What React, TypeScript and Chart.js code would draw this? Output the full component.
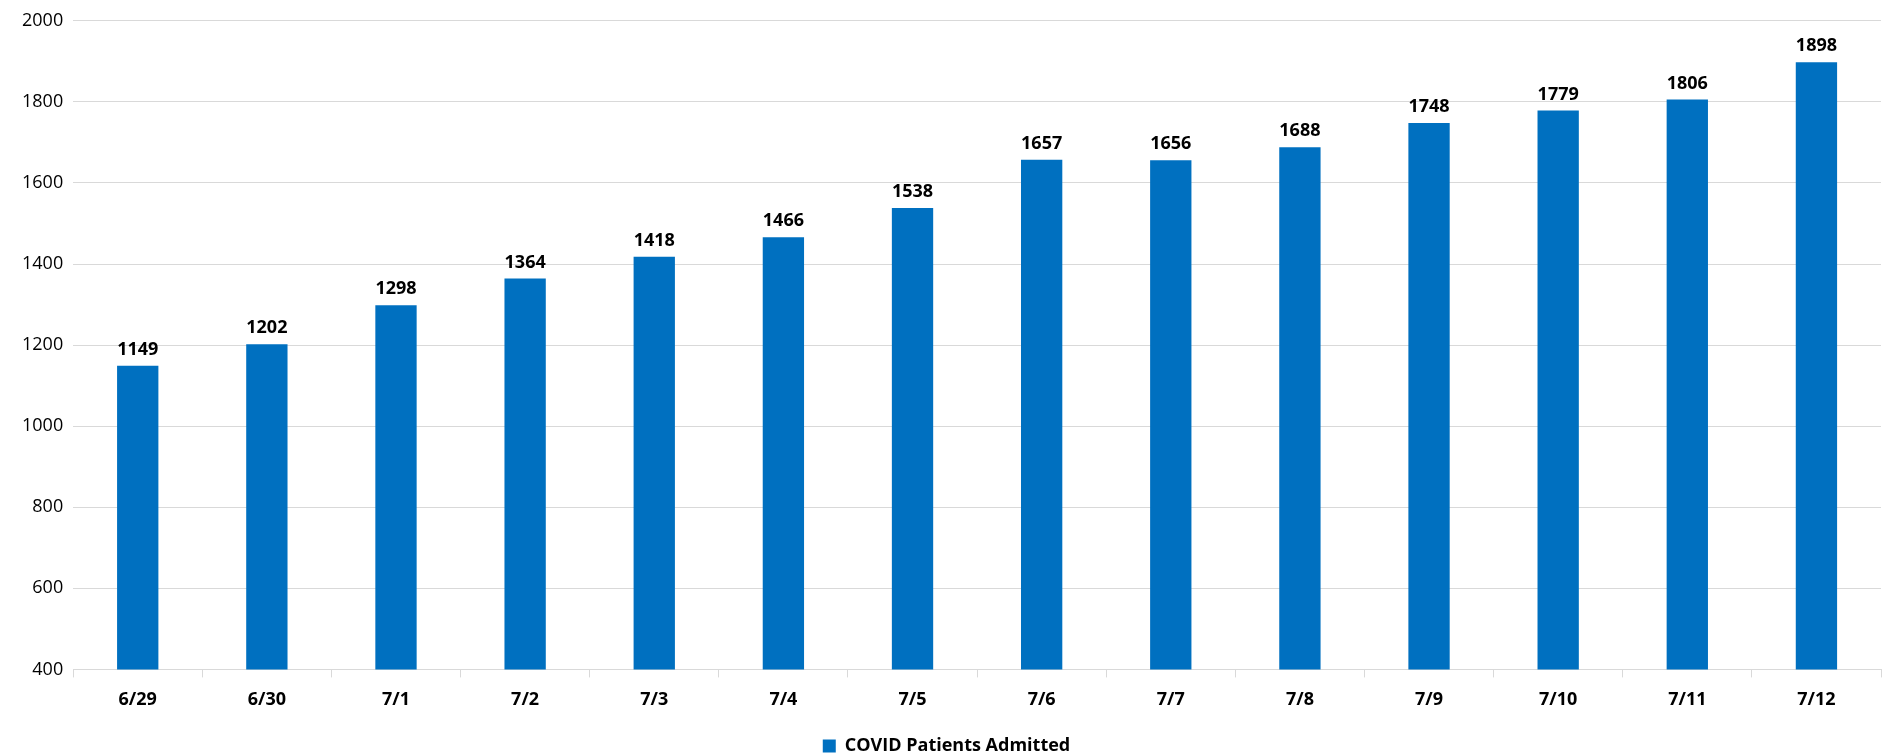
import { useEffect, useRef } from 'react';
import Chart from 'chart.js/auto';

const labels = ['6/29', '6/30', '7/1', '7/2', '7/3', '7/4', '7/5', '7/6', '7/7', '7/8', '7/9', '7/10', '7/11', '7/12'];
const admitted = [1149, 1202, 1298, 1364, 1418, 1466, 1538, 1657, 1656, 1688, 1748, 1779, 1806, 1898];
const yTicks = [400, 600, 800, 1000, 1200, 1400, 1600, 1800, 2000];

const FONT = '"Open Sans", "Liberation Sans", sans-serif';

const valueLabels = {
  id: 'valueLabels',
  afterDatasetsDraw(chart: Chart) {
    const ctx = chart.ctx;
    const meta = chart.getDatasetMeta(0);
    ctx.save();
    ctx.font = `bold 18px ${FONT}`;
    ctx.fillStyle = '#000';
    ctx.textAlign = 'center';
    ctx.textBaseline = 'bottom';
    meta.data.forEach((bar: any, i: number) => {
      ctx.fillText(String(admitted[i]), bar.x, bar.y - 7);
    });
    ctx.restore();
  },
};

export default function App() {
  const canvasRef = useRef<HTMLCanvasElement>(null);

  useEffect(() => {
    document.body.style.margin = '0';
    const canvas = canvasRef.current;
    if (!canvas) return;
    const chart = new Chart(canvas, {
      type: 'bar',
      data: {
        labels,
        datasets: [
          {
            label: 'COVID Patients Admitted',
            data: admitted,
            backgroundColor: '#0070c0',
            categoryPercentage: 1,
            barPercentage: 0.32,
          },
        ],
      },
      options: {
        responsive: true,
        maintainAspectRatio: false,
        animation: false,
        layout: { padding: { top: 6, right: 4, left: 12, bottom: -10 } },
        plugins: {
          tooltip: { enabled: false },
          legend: {
            position: 'bottom',
            labels: {
              boxWidth: 13,
              boxHeight: 13,
              padding: 4,
              color: '#000',
              font: { family: FONT, size: 18, weight: 'bold' },
            },
          },
        },
        scales: {
          x: {
            grid: { display: true, drawOnChartArea: false, color: '#d9d9d9', tickLength: 8 },
            border: { color: '#d9d9d9' },
            ticks: { color: '#000', padding: 12, font: { family: FONT, size: 18, weight: 'bold' } },
            afterFit: (axis: any) => {
              axis.height += 10;
            },
          },
          y: {
            min: 400,
            max: 2000,
            afterBuildTicks: (axis: any) => {
              axis.ticks = yTicks.map((v) => ({ value: v }));
            },
            grid: { color: '#d9d9d9', drawTicks: false },
            border: { display: false },
            ticks: {
              color: '#000',
              padding: 10,
              font: { family: FONT, size: 18 },
              callback: (v: any) => String(v),
            },
          },
        },
      },
      plugins: [valueLabels],
    });
    return () => chart.destroy();
  }, []);

  return (
    <div style={{ width: 1885, height: 755, background: '#fff' }}>
      <canvas ref={canvasRef} />
    </div>
  );
}
